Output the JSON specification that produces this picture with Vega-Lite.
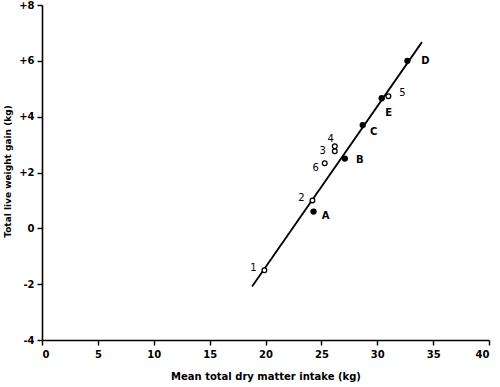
{
  "$schema": "https://vega.github.io/schema/vega-lite/v6.json",
  "width": 447,
  "height": 335,
  "autosize": {"type": "none"},
  "padding": {"left": 42, "top": 5, "right": 11, "bottom": 47},
  "background": "white",
  "config": {
    "view": {"stroke": null},
    "font": "DejaVu Sans",
    "axis": {
      "grid": false,
      "domainColor": "black",
      "domainWidth": 1.6,
      "tickColor": "black",
      "tickWidth": 1.4,
      "tickSize": 5,
      "labelColor": "black",
      "labelFont": "DejaVu Sans",
      "labelFontSize": 10,
      "labelFontWeight": "bold",
      "titleColor": "black",
      "titleFont": "DejaVu Sans",
      "titleFontSize": 10,
      "titleFontWeight": "bold"
    }
  },
  "datasets": {
    "pts": [
      {"id": "1", "x": 19.9, "y": -1.5, "group": "open"},
      {"id": "2", "x": 24.2, "y": 1.0, "group": "open"},
      {"id": "3", "x": 26.2, "y": 2.76, "group": "open"},
      {"id": "4", "x": 26.2, "y": 2.94, "group": "open"},
      {"id": "5", "x": 31.0, "y": 4.73, "group": "open"},
      {"id": "6", "x": 25.3, "y": 2.33, "group": "open"},
      {"id": "A", "x": 24.3, "y": 0.6, "group": "filled"},
      {"id": "B", "x": 27.1, "y": 2.5, "group": "filled"},
      {"id": "C", "x": 28.7, "y": 3.7, "group": "filled"},
      {"id": "D", "x": 32.7, "y": 6.0, "group": "filled"},
      {"id": "E", "x": 30.4, "y": 4.66, "group": "filled"}
    ],
    "fit": [
      {"x": 18.8, "y": -2.08},
      {"x": 34.0, "y": 6.67}
    ]
  },
  "layer": [
    {
      "data": {"name": "fit"},
      "mark": {"type": "line", "color": "black", "strokeWidth": 1.8},
      "encoding": {
        "x": {
          "field": "x", "type": "quantitative",
          "scale": {"domain": [0, 40], "nice": false},
          "axis": {"values": [0, 5, 10, 15, 20, 25, 30, 35, 40], "title": "Mean total dry matter intake (kg)", "titlePadding": 12, "labelPadding": 4}
        },
        "y": {
          "field": "y", "type": "quantitative",
          "scale": {"domain": [-4, 8], "nice": false},
          "axis": {"values": [-4, -2, 0, 2, 4, 6, 8], "labelExpr": "datum.value > 0 ? '+' + datum.value : '' + datum.value", "title": "Total live weight gain (kg)", "titleFontSize": 9, "titleY": 166, "titleX": -30, "labelPadding": 3}
        }
      }
    },
    {
      "data": {"name": "pts"},
      "transform": [{"filter": "datum.group == 'filled'"}],
      "mark": {"type": "point", "shape": "circle", "filled": true, "color": "black", "size": 40, "opacity": 1},
      "encoding": {"x": {"field": "x", "type": "quantitative"}, "y": {"field": "y", "type": "quantitative"}}
    },
    {
      "data": {"name": "pts"},
      "transform": [{"filter": "datum.group == 'open'"}],
      "mark": {"type": "point", "shape": "circle", "filled": true, "fill": "white", "stroke": "black", "strokeWidth": 1.3, "size": 22, "opacity": 1},
      "encoding": {"x": {"field": "x", "type": "quantitative"}, "y": {"field": "y", "type": "quantitative"}}
    },
    {
      "data": {"name": "pts"},
      "transform": [{"filter": "datum.id == '1' || datum.id == '2'"}],
      "mark": {"type": "text", "dx": -11, "dy": -2, "fontSize": 10, "color": "black"},
      "encoding": {"x": {"field": "x", "type": "quantitative"}, "y": {"field": "y", "type": "quantitative"}, "text": {"field": "id"}}
    },
    {
      "data": {"name": "pts"},
      "transform": [{"filter": "datum.id == '3'"}],
      "mark": {"type": "text", "dx": -12, "dy": 0, "fontSize": 10, "color": "black"},
      "encoding": {"x": {"field": "x", "type": "quantitative"}, "y": {"field": "y", "type": "quantitative"}, "text": {"field": "id"}}
    },
    {
      "data": {"name": "pts"},
      "transform": [{"filter": "datum.id == '4'"}],
      "mark": {"type": "text", "dx": -4, "dy": -7, "fontSize": 10, "color": "black"},
      "encoding": {"x": {"field": "x", "type": "quantitative"}, "y": {"field": "y", "type": "quantitative"}, "text": {"field": "id"}}
    },
    {
      "data": {"name": "pts"},
      "transform": [{"filter": "datum.id == '6'"}],
      "mark": {"type": "text", "dx": -9, "dy": 5, "fontSize": 10, "color": "black"},
      "encoding": {"x": {"field": "x", "type": "quantitative"}, "y": {"field": "y", "type": "quantitative"}, "text": {"field": "id"}}
    },
    {
      "data": {"name": "pts"},
      "transform": [{"filter": "datum.id == '5'"}],
      "mark": {"type": "text", "dx": 14, "dy": -3, "fontSize": 10, "color": "black"},
      "encoding": {"x": {"field": "x", "type": "quantitative"}, "y": {"field": "y", "type": "quantitative"}, "text": {"field": "id"}}
    },
    {
      "data": {"name": "pts"},
      "transform": [{"filter": "datum.id == 'A'"}],
      "mark": {"type": "text", "dx": 12, "dy": 4, "fontSize": 10, "fontWeight": "bold", "color": "black"},
      "encoding": {"x": {"field": "x", "type": "quantitative"}, "y": {"field": "y", "type": "quantitative"}, "text": {"field": "id"}}
    },
    {
      "data": {"name": "pts"},
      "transform": [{"filter": "datum.id == 'B'"}],
      "mark": {"type": "text", "dx": 15, "dy": 1, "fontSize": 10, "fontWeight": "bold", "color": "black"},
      "encoding": {"x": {"field": "x", "type": "quantitative"}, "y": {"field": "y", "type": "quantitative"}, "text": {"field": "id"}}
    },
    {
      "data": {"name": "pts"},
      "transform": [{"filter": "datum.id == 'C'"}],
      "mark": {"type": "text", "dx": 11, "dy": 7, "fontSize": 10, "fontWeight": "bold", "color": "black"},
      "encoding": {"x": {"field": "x", "type": "quantitative"}, "y": {"field": "y", "type": "quantitative"}, "text": {"field": "id"}}
    },
    {
      "data": {"name": "pts"},
      "transform": [{"filter": "datum.id == 'E'"}],
      "mark": {"type": "text", "dx": 7, "dy": 15, "fontSize": 10, "fontWeight": "bold", "color": "black"},
      "encoding": {"x": {"field": "x", "type": "quantitative"}, "y": {"field": "y", "type": "quantitative"}, "text": {"field": "id"}}
    },
    {
      "data": {"name": "pts"},
      "transform": [{"filter": "datum.id == 'D'"}],
      "mark": {"type": "text", "dx": 18, "dy": 0, "fontSize": 10, "fontWeight": "bold", "color": "black"},
      "encoding": {"x": {"field": "x", "type": "quantitative"}, "y": {"field": "y", "type": "quantitative"}, "text": {"field": "id"}}
    }
  ]
}
